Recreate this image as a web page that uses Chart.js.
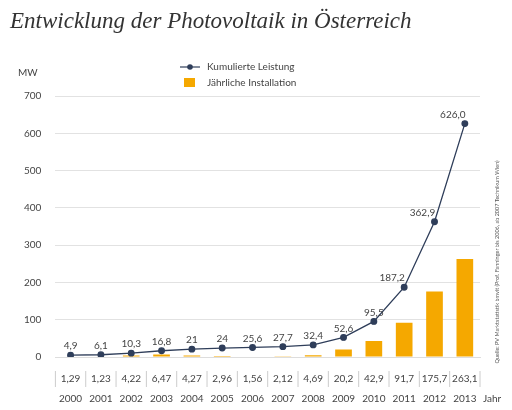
<!DOCTYPE html>
<html><head><meta charset="utf-8">
<script src="https://cdn.jsdelivr.net/npm/chart.js@4"></script>
<style>html,body{margin:0;padding:0;background:#fff}</style>
</head><body><canvas id="c" width="512" height="410" style="width:512px;height:410px"></canvas>
<script>
const years=['2000','2001','2002','2003','2004','2005','2006','2007','2008','2009','2010','2011','2012','2013'];
const cumulative=[4.9,6.1,10.3,16.8,21,24,25.6,27.7,32.4,52.6,95.5,187.2,362.9,626.0];
const annual=[1.29,1.23,4.22,6.47,4.27,2.96,1.56,2.12,4.69,20.2,42.9,91.7,175.7,263.1];
const yTicks=[0,100,200,300,400,500,600,700];
const cumLabels=['4,9','6,1','10,3','16,8','21','24','25,6','27,7','32,4','52,6','95,5','187,2','362,9','626,0'];
const annLabels=['1,29','1,23','4,22','6,47','4,27','2,96','1,56','2,12','4,69','20,2','42,9','91,7','175,7','263,1'];
const NAVY='#2f3e5a',ORANGE='#f5a800';
const deco={id:'deco',afterDraw(ch){
 const c=ch.ctx,x=ch.scales.x;
 c.save();
 c.fillStyle='#333';c.font='italic 23px "Liberation Serif"';c.textAlign='left';c.textBaseline='alphabetic';
 c.fillText('Entwicklung der Photovoltaik in Österreich',10,28);
 c.font='10px Lato';c.fillStyle='#444';c.fillText('MW',18,76);
 c.strokeStyle=NAVY;c.lineWidth=1.2;c.beginPath();c.moveTo(180,67);c.lineTo(200,67);c.stroke();
 c.fillStyle=NAVY;c.beginPath();c.arc(190,67,2.8,0,7);c.fill();
 c.fillStyle='#444';c.textBaseline='middle';c.fillText('Kumulierte Leistung',207,67);
 c.fillStyle=ORANGE;c.fillRect(184,78,11,9);
 c.fillStyle='#444';c.fillText('Jährliche Installation',207,83);
 c.textAlign='center';c.textBaseline='bottom';c.font='10px Lato';c.fillStyle='#444';
 const meta=ch.getDatasetMeta(0);
 meta.data.forEach((p,i)=>{const dx=i>=11?-12:0;c.fillText(cumLabels[i],p.x+dx,p.y-4);});
 c.textBaseline='middle';
 const step=x.getPixelForValue(1)-x.getPixelForValue(0);
 years.forEach((yr,i)=>{const px=x.getPixelForValue(i);
  c.fillStyle='#444';c.fillText(annLabels[i],px,379);c.fillText(yr,px,399);
  c.strokeStyle='#ccc';c.lineWidth=1;c.beginPath();c.moveTo(px-step/2,371);c.lineTo(px-step/2,387);c.stroke();});
 const last=x.getPixelForValue(13)+step/2;
 c.beginPath();c.moveTo(last,371);c.lineTo(last,387);c.stroke();
 c.fillStyle='#444';c.fillText('Jahr',492,399);
 c.translate(497,262);c.rotate(-Math.PI/2);c.font='5.5px Lato';c.fillStyle='#555';
 c.fillText('Quelle: PV Marktstatistik bmvit (Prof. Fanninger bis 2006, ab 2007 Technikum Wien)',0,0);
 c.restore();
}};
new Chart(document.getElementById('c'),{
 data:{labels:years,datasets:[
  {type:'line',data:cumulative,borderColor:NAVY,backgroundColor:NAVY,borderWidth:1.3,pointRadius:2.8,pointBackgroundColor:NAVY,tension:0,order:0},
  {type:'bar',data:annual,backgroundColor:ORANGE,barPercentage:0.55,categoryPercentage:1,order:1}]},
 options:{responsive:false,animation:false,devicePixelRatio:1,
  layout:{padding:{top:96,bottom:45,right:32,left:10}},
  plugins:{legend:{display:false},tooltip:{enabled:false}},
  scales:{
   x:{grid:{display:false},border:{color:'#ddd'},ticks:{display:false}},
   y:{min:0,max:700,afterBuildTicks:s=>{s.ticks=yTicks.map(v=>({value:v}));},
      grid:{color:'#e2e2e2',drawTicks:false},border:{display:false},
      ticks:{padding:14,color:'#444',font:{family:'Lato',size:10}}}}},
 plugins:[deco]});
</script>
</body></html>
